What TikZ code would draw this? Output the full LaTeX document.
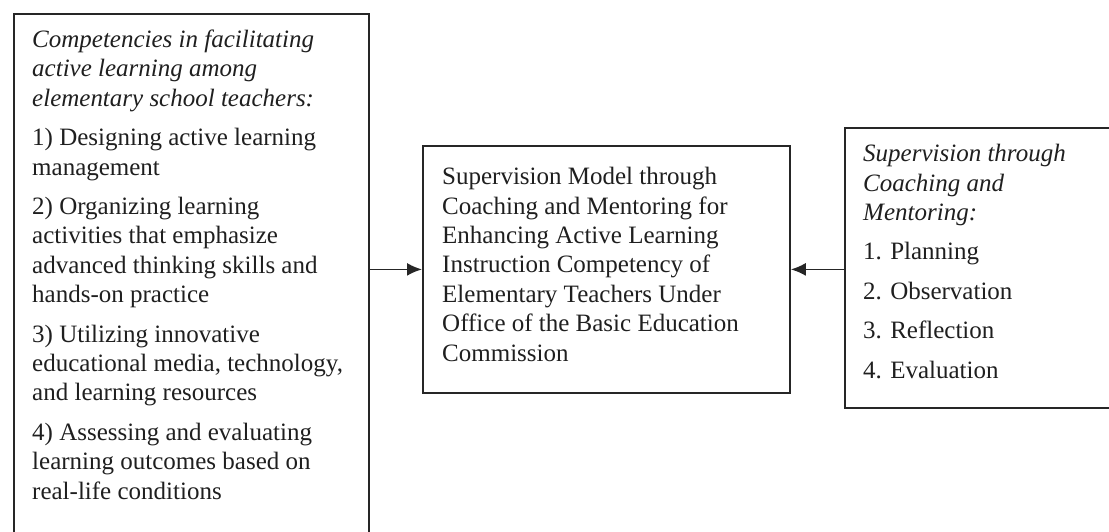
\documentclass[tikz,border=0pt]{standalone}
\usepackage{fontspec}
\setmainfont{Liberation Serif}
\usetikzlibrary{arrows.meta}
\begin{document}
\begin{tikzpicture}[x=1pt,y=-1pt,
  box/.style={draw=black!85, line width=1.8pt, inner sep=0pt, anchor=north west},
  txt/.style={anchor=base west, align=left, inner sep=0pt, text=black!88,
    font=\fontsize{25}{29.4}\selectfont},
  arr/.style={draw=black!85, line width=1.8pt, -{Latex[length=15pt,width=13pt]}}]
\useasboundingbox (0,0) rectangle (1109,532);
\clip (0,0) rectangle (1109,532);
\node[box, minimum width=355pt, minimum height=540pt] (L) at (13,13) {};
\node[box, minimum width=367pt, minimum height=247pt] (M) at (422,145) {};
\node[box, minimum width=290pt, minimum height=280pt] (R) at (844,127) {};
\node[txt] (Ltext) at (32,499) {\itshape Competencies in facilitating\\
  \itshape active learning among\\
  \itshape elementary school teachers:\\[10pt]
  1) Designing active learning\\
  management\\[10pt]
  2) Organizing learning\\
  activities that emphasize\\
  advanced thinking skills and\\
  hands-on practice\\[10pt]
  3) Utilizing innovative\\
  educational media, technology,\\
  and learning resources\\[10pt]
  4) Assessing and evaluating\\
  learning outcomes based on\\
  real-life conditions};
\node[txt] (Mtext) at (442,361) {Supervision Model through\\
  Coaching and Mentoring for\\
  Enhancing Active Learning\\
  Instruction Competency of\\
  Elementary Teachers Under\\
  Office of the Basic Education\\
  Commission};
\node[txt] (Rtext) at (863,378) {\itshape Supervision through\\
  \itshape Coaching and\\
  \itshape Mentoring:\\[10pt]
  1. Planning\\[10pt]
  2. Observation\\[10pt]
  3. Reflection\\[10pt]
  4. Evaluation};
\draw[arr] (L.east |- M.west) -- (M.west);
\draw[arr] (R.west |- M.east) -- (M.east);
\end{tikzpicture}
\end{document}
